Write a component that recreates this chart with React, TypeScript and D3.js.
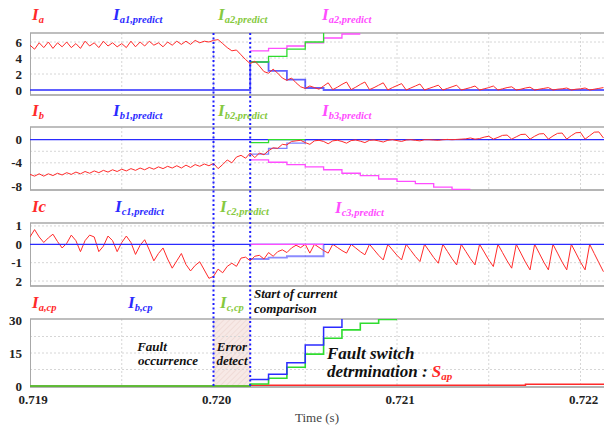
import React from "react";
import * as d3 from "d3";

// sampled waveforms: one value every 25 us starting at 0.719 s
const tStart = 0.719;
const tStep = 0.000025;

const iaValues = [
  5.6, 5.1, 5.9, 5.3, 6.0, 5.2, 5.9, 5.4, 6.0, 5.3, 5.8, 5.2, 6.1, 5.5, 5.9, 5.3, 6.1, 5.5, 5.9, 5.4,
  5.8, 5.3, 6.1, 5.4, 6.0, 5.5, 6.1, 5.6, 5.9, 5.4, 6.0, 5.6, 6.1, 5.7, 6.1, 5.7, 6.2, 5.9, 6.1, 6.0,
  6.2, 6.3, 5.8, 5.3, 4.9, 5.0, 4.4, 3.8, 3.3, 3.6, 3.0, 2.3, 2.1, 2.6, 2.1, 1.5, 1.2, 1.5, 0.9, 0.4,
  0.2, 0.5,
  0.3, 0.1, 0.5, 0.9, 0.05, 0.35, 0.7, 1.0, 0.05, 0.35, 0.7, 1.0, 0.05, 0.3, 0.6, 0.9,
  0, 0.3, 0.55, 0.8, 0, 0.25, 0.5, 0.75, 0, 0.2, 0.4, 0.6, 0, 0.2, 0.4, 0.6,
  0, 0.15, 0.3, 0.5, 0, 0.15, 0.3, 0.5, 0, 0.15, 0.3, 0.4, 0, 0.1, 0.25, 0.35,
  0, 0.1, 0.2, 0.3, 0, 0.1, 0.15, 0.25, 0, 0.1, 0.15, 0.25, 0, 0.1, 0.2, 0.3,
];

const ibValues = [
  -6.0, -6.3, -5.9, -6.3, -5.9, -6.2, -5.8, -6.1, -5.7, -6.0, -5.6, -5.9, -5.5, -5.8, -5.4, -5.7, -5.3, -5.6, -5.2, -5.5,
  -5.1, -5.4, -5.0, -5.3, -4.9, -5.2, -4.8, -5.1, -4.7, -5.0, -4.6, -4.9, -4.5, -4.9, -4.4, -4.8, -4.3, -4.6, -4.2, -4.5,
  -4.1, -5.0, -4.3, -3.5, -4.0, -3.0, -2.7, -3.2, -2.3, -3.1, -2.3, -2.6, -1.9, -1.4, -1.5, -0.8, -0.9, -0.3, -0.2, -0.1,
  -0.5,
  -0.8, -0.2, -0.1, -0.3, -0.7, -0.2, -0.1, -0.3, -0.6, -0.15, -0.05, -0.25, -0.5, -0.1, -0.05, -0.2,
  -0.4, -0.1, 0, -0.15, -0.3, -0.05, 0, -0.1, -0.2, 0, 0, -0.05, -0.1, 0, 0.05, 0,
  0.05, 0.1, 0.15, 0.3, 0.1, 0.2, 0.45, 0.6, 0.1, 0.4, 0.75, 0.8, 0.1, 0.5, 0.9, 0.95,
  0.1, 0.6, 1.0, 1.05, 0.1, 0.65, 1.1, 1.15, 0.1, 0.7, 1.2, 1.25, 0.1, 0.7, 1.3, 1.35,
  0.3,
];

const icValues = [
  0.4, 0.8, 0.4, 0.1, 0.35, 0.55, 0.15, -0.2, 0.05, 0.5, 0.2, -0.4, 0.2, 0.5, 0.4, -0.4, -0.1, 0.45, 0.2, -0.4,
  0.1, 0.45, 0.1, -0.55, -0.05, 0.25, -0.3, -0.9, -0.5, -0.2, -0.8, -1.3, -0.9, -0.5, -1.1, -1.45, -1.15, -0.95, -1.4, -1.85,
  -1.75, -1.35, -1.55, -1.2, -1.03, -1.2, -0.75, -0.7, -0.9, -0.65, -0.6, -0.8, -0.45, -0.65, -0.4, -0.3, -0.45, -0.2, -0.05, -0.18,
  0,
  -0.48, 0, -0.17, -0.34, -0.48, 0, -0.17, -0.34, -0.48, 0, -0.2, -0.4, -0.57, 0, -0.3, -0.6,
  -0.85, 0, -0.3, -0.6, -0.85, 0, -0.33, -0.66, -0.94, 0, -0.36, -0.72, -1.03, 0, -0.39, -0.78,
  -1.12, 0, -0.39, -0.78, -1.12, 0, -0.42, -0.85, -1.21, 0, -0.45, -0.9, -1.3, 0, -0.48, -0.97,
  -1.39, 0, -0.48, -0.97, -1.39, 0, -0.48, -0.97, -1.39, 0, -0.48, -0.97, -1.39, 0, -0.5, -1.0,
  -1.49,
];

// stepped predictions: [time, value], held until the next time
const ia1Predict = [[0.719, 0], [0.7202, 3.5], [0.7203, 2.4], [0.7204, 1.3], [0.7205, 0.25], [0.7206, 0], [0.72215, 0]];
const ia2Predict = [[0.7202, 3.5], [0.7203, 4.2], [0.7204, 5.1], [0.7205, 6.0], [0.7206, 7.2], [0.7207, 7.2]];
const ia3Predict = [[0.7202, 4.9], [0.7203, 5.2], [0.7204, 5.5], [0.7205, 5.9], [0.7206, 6.5], [0.7207, 7.0], [0.7208, 7.0]];

const ib1Predict = [[0.7202, -2.5], [0.7203, -1.5], [0.7204, -0.6], [0.7205, 0], [0.7206, 0]];
const ib2Predict = [[0.7202, -0.5], [0.7203, 0], [0.7205, 0]];
const ib3Predict = [
  [0.7202, -3.5], [0.7203, -3.9], [0.7204, -4.3], [0.7205, -4.7], [0.7206, -5.2], [0.7207, -5.8],
  [0.7208, -6.2], [0.7209, -6.8], [0.721, -7.2], [0.7211, -7.6], [0.7212, -8.2], [0.7213, -8.6], [0.7214, -8.6],
];

const ic1Predict = [[0.7202, -0.8], [0.7203, -0.72], [0.7204, -0.65], [0.7206, 0]];
const ic3Predict = [[0.7202, 0], [0.7206, 0]];

const cpA = [[0.719, 0], [0.7202, 0.4], [0.7217, 0.8], [0.72215, 0.8]];
const cpB = [[0.7202, 3.0], [0.7203, 5.3], [0.7204, 10.6], [0.7205, 18.6], [0.7206, 26.7], [0.7207, 30.4]];
const cpC = [
  [0.719, 0], [0.7202, 0.9], [0.7203, 3.5], [0.7204, 8.5], [0.7205, 14.5], [0.7206, 21.7],
  [0.7207, 25.5], [0.7208, 28.5], [0.7209, 30.3], [0.721, 30.3],
];

const zeroRef = [[0.719, 0], [0.72215, 0]];

const faultTime = 0.72;
const detectTime = 0.7202;
const timeTicks = [0.719, 0.72, 0.721, 0.722];
const gridTimes = [0.7195, 0.72, 0.7205, 0.721, 0.7215, 0.722];

const RED = "#ff2a2a";
const BLUE = "#2b2bff";
const GREEN = "#2fdc2f";
const MAGENTA = "#ff4dff";
const LBL_GREEN = "#86c940";
const FONT = '"Liberation Serif", "Times New Roman", "DejaVu Serif", serif';

const sampled = (vals: number[]) => vals.map((v, i) => [tStart + i * tStep, v]);

const x = d3.scaleLinear().domain([0.719, 0.722]).range([30, 580.5]);
const plotRight = 604;

const panels = [
  {
    id: "a", top: 33, bottom: 95, domain: [-0.625, 7.125], ticks: [0, 2, 4, 6], grid: [2, 4, 6],
    series: [
      { data: ia1Predict, color: BLUE, step: true, w: 1.8, op: 0.75 },
      { data: ia3Predict, color: MAGENTA, step: true, w: 1.3, op: 1 },
      { data: ia2Predict, color: GREEN, step: true, w: 1.3, op: 1 },
      { data: sampled(iaValues), color: RED, step: false, w: 1, op: 1 },
    ],
  },
  {
    id: "b", top: 127, bottom: 190, domain: [-8.7, 2.2], ticks: [0, -4, -8], grid: [-2, -4, -6],
    series: [
      { data: zeroRef, color: BLUE, step: true, w: 1.3, op: 1 },
      { data: ib3Predict, color: MAGENTA, step: true, w: 1.3, op: 1 },
      { data: ib2Predict, color: GREEN, step: true, w: 1.3, op: 1 },
      { data: ib1Predict, color: BLUE, step: true, w: 1.3, op: 0.6 },
      { data: sampled(ibValues), color: RED, step: false, w: 1, op: 1 },
    ],
  },
  {
    id: "c", top: 223, bottom: 286, domain: [-2.27, 1.16], ticks: [1, 0, -1, -2], grid: [1, -1, -2],
    series: [
      { data: ic1Predict, color: BLUE, step: true, w: 1.8, op: 0.55 },
      { data: sampled(icValues), color: RED, step: false, w: 1, op: 1 },
      { data: zeroRef, color: BLUE, step: true, w: 1.3, op: 1 },
      { data: ic3Predict, color: MAGENTA, step: true, w: 1.3, op: 1 },
    ],
  },
  {
    id: "cp", top: 319, bottom: 387, domain: [-0.45, 30.45], ticks: [0, 15, 30], grid: [7.5, 15, 22.5],
    series: [
      { data: cpA, color: RED, step: true, w: 1.5, op: 1 },
      { data: cpC, color: GREEN, step: true, w: 1.6, op: 1 },
      { data: cpB, color: BLUE, step: true, w: 1.5, op: 1 },
    ],
  },
];

// tick text as printed in the figure ("-2" is printed as "2" on the Ic axis)
const tickText = (id: string, v: number) => (id === "c" && v === -2 ? "2" : String(v));

const serif = { fontFamily: FONT };

function Label({ x0, y0, main, sub, color, big = 17, small = 10.5 }: any) {
  return (
    <text x={x0} y={y0} fill={color} style={serif} fontWeight="bold" fontStyle="italic">
      <tspan fontSize={big}>{main}</tspan>
      {sub ? <tspan fontSize={small} dy={3}>{sub}</tspan> : null}
    </text>
  );
}

function Panel({ p }: any) {
  const y = d3.scaleLinear().domain(p.domain).range([p.bottom, p.top]);
  const linear = d3.line<any>().x((d) => x(d[0])).y((d) => y(d[1]));
  const stepped = d3.line<any>().x((d) => x(d[0])).y((d) => y(d[1])).curve(d3.curveStepAfter);
  return (
    <g>
      <clipPath id={`clip-${p.id}`}>
        <rect x={30} y={p.top} width={plotRight - 30} height={p.bottom - p.top} />
      </clipPath>
      {p.id === "cp" && (
        <g>
          <rect x={x(faultTime)} y={p.top} width={x(detectTime) - x(faultTime)} height={p.bottom - p.top} fill="#f7e9e6" />
          <rect x={x(faultTime)} y={p.top} width={x(detectTime) - x(faultTime)} height={p.bottom - p.top} fill="url(#hatch)" />
        </g>
      )}
      {gridTimes.map((t) => (
        <line key={t} x1={x(t)} x2={x(t)} y1={p.top} y2={p.bottom} stroke="#d6d6d6" strokeDasharray="2,2" />
      ))}
      {p.grid.map((v: number) => (
        <line key={v} x1={30} x2={plotRight} y1={y(v)} y2={y(v)} stroke="#d6d6d6" strokeDasharray="2,2" />
      ))}
      <line x1={30} x2={plotRight} y1={p.top} y2={p.top} stroke="#a8a8a8" strokeWidth={1.5} />
      <line x1={30} x2={plotRight} y1={p.bottom} y2={p.bottom} stroke="#b4b4b4" strokeWidth={2} />
      <line x1={30.5} x2={30.5} y1={p.top} y2={p.bottom} stroke="#a8a8a8" strokeWidth={1} />
      <g clipPath={`url(#clip-${p.id})`}>
        {p.series.map((s: any, i: number) => (
          <path
            key={i}
            d={(s.step ? stepped : linear)(s.data) || ""}
            fill="none"
            stroke={s.color}
            strokeWidth={s.w}
            strokeOpacity={s.op}
          />
        ))}
      </g>
      {p.ticks.map((v: number) => (
        <text
          key={v}
          x={22}
          y={y(v)}
          dy="0.35em"
          textAnchor="end"
          style={serif}
          fontWeight="bold"
          fontSize={13}
          fill="#222"
        >
          {tickText(p.id, v)}
        </text>
      ))}
    </g>
  );
}

export default function App() {
  return (
    <svg width={604} height={428} style={{ position: "absolute", left: 0, top: 0, background: "#fff" }}>
      <defs>
        <pattern id="hatch" width={4} height={4} patternUnits="userSpaceOnUse" patternTransform="rotate(45)">
          <line x1={0} y1={0} x2={0} y2={4} stroke="#e9cfc9" strokeWidth={1} />
        </pattern>
      </defs>
      <rect width={604} height={428} fill="#fff" />
      {panels.map((p) => (
        <Panel key={p.id} p={p} />
      ))}

      {/* series titles */}
      <Label x0={32} y0={20} main="I" sub="a" color={RED} />
      <Label x0={113} y0={20} main="I" sub="a1,predict" color={BLUE} />
      <Label x0={218} y0={20} main="I" sub="a2,predict" color={LBL_GREEN} />
      <Label x0={322} y0={20} main="I" sub="a2,predict" color={MAGENTA} />

      <Label x0={32} y0={116} main="I" sub="b" color={RED} />
      <Label x0={113} y0={116} main="I" sub="b1,predict" color={BLUE} />
      <Label x0={218} y0={116} main="I" sub="b2,predict" color={LBL_GREEN} />
      <Label x0={322} y0={116} main="I" sub="b3,predict" color={MAGENTA} />

      <Label x0={32} y0={212} main="Ic" color={RED} />
      <Label x0={115} y0={212} main="I" sub="c1,predict" color={BLUE} />
      <Label x0={220} y0={212} main="I" sub="c2,predict" color={LBL_GREEN} />
      <Label x0={335} y0={213} main="I" sub="c3,predict" color={MAGENTA} />

      <Label x0={32} y0={308} main="I" sub="a,cp" color={RED} />
      <Label x0={128} y0={308} main="I" sub="b,cp" color={BLUE} />
      <Label x0={220} y0={308} main="I" sub="c,cp" color={LBL_GREEN} />

      {/* annotations */}
      <g style={serif} fontWeight="bold" fontStyle="italic" fill="#111">
        <text x={254} y={298} fontSize={13}>Start of current</text>
        <text x={254} y={313} fontSize={13}>comparison</text>
        <text x={152} y={351} fontSize={13} textAnchor="middle">Fault</text>
        <text x={168} y={365} fontSize={13} textAnchor="middle">occurrence</text>
        <text x={232} y={351} fontSize={13} textAnchor="middle">Error</text>
        <text x={232} y={365} fontSize={13} textAnchor="middle">detect</text>
        <text x={327} y={359} fontSize={17}>Fault switch</text>
        <text x={327} y={377} fontSize={17}>
          detrmination : <tspan fill={RED}>S</tspan>
          <tspan fill={RED} fontSize={11} dy={3}>ap</tspan>
        </text>
      </g>

      {/* fault / detection markers */}
      {[faultTime, detectTime].map((t) => (
        <line key={t} x1={x(t)} x2={x(t)} y1={33} y2={388} stroke="#1f1fff" strokeWidth={2} strokeDasharray="2,2.5" />
      ))}

      {/* time axis */}
      {timeTicks.map((t) => (
        <text key={t} x={x(t) + 3} y={404} textAnchor="middle" style={serif} fontWeight="bold" fontSize={13} fill="#222">
          {d3.format(".3f")(t)}
        </text>
      ))}
      <text x={317} y={422} textAnchor="middle" style={serif} fontSize={13} fill="#444">
        Time (s)
      </text>
    </svg>
  );
}
